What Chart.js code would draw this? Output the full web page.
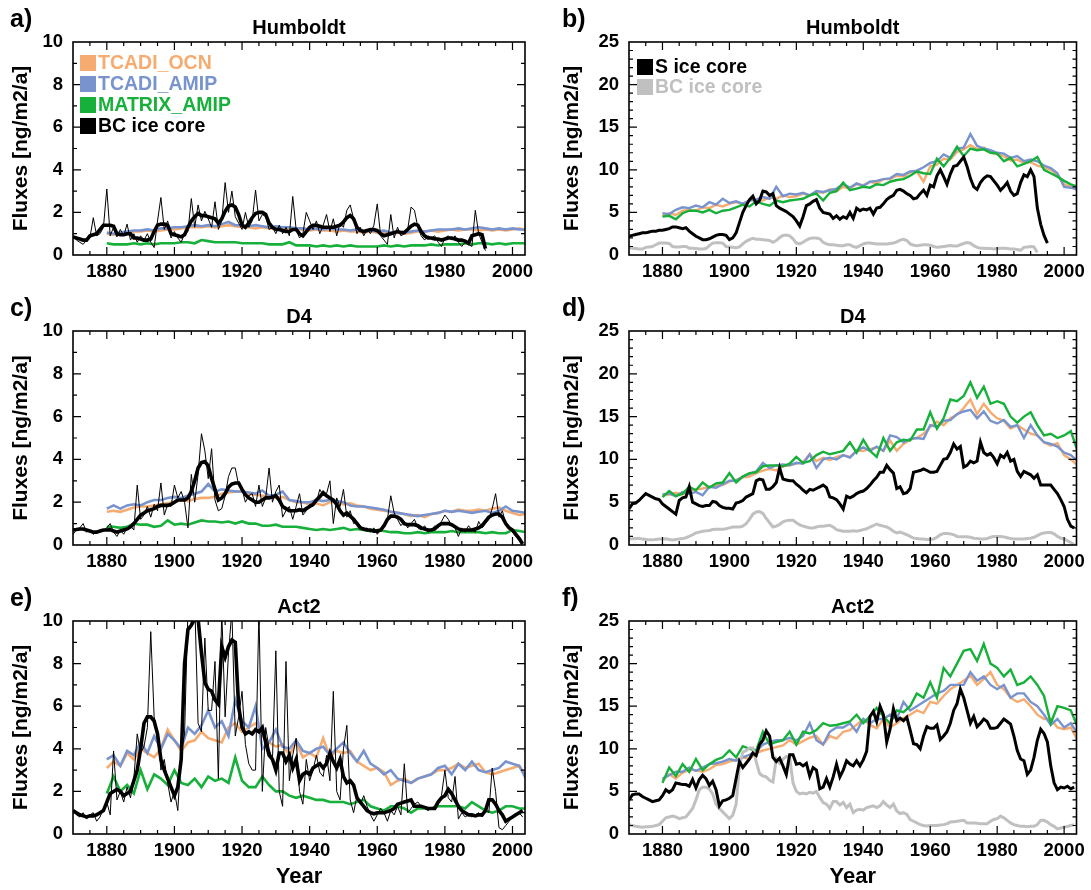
<!DOCTYPE html>
<html>
<head>
<meta charset="utf-8">
<script src="https://cdn.jsdelivr.net/npm/chart.js@4.4.1/dist/chart.umd.min.js"></script>
<style>
  body { margin: 0; background: #fff; }
  #page { position: relative; width: 1091px; height: 890px; overflow: hidden; background: #fff; }
  canvas { position: absolute; }
</style>
</head>
<body>
<div id="page">
  <canvas id="pa" width="545" height="290" style="left:0;top:0"></canvas>
  <canvas id="pb" width="546" height="290" style="left:545px;top:0"></canvas>
  <canvas id="pc" width="545" height="290" style="left:0;top:289px"></canvas>
  <canvas id="pd" width="546" height="290" style="left:545px;top:289px"></canvas>
  <canvas id="pe" width="545" height="311" style="left:0;top:579px"></canvas>
  <canvas id="pf" width="546" height="311" style="left:545px;top:579px"></canvas>
</div>
<script>
// years: model runs every 2nd year from 1880, ice cores every year from 1870
const modelStart = 1880, modelStep = 2;
const coreStart = 1870;
const xLabelYears = [1880, 1900, 1920, 1940, 1960, 1980, 2000];

// ---- Humboldt, BC (panel a) ----
const aOcn = [1.0, 0.95, 1.0, 1.05, 1.1, 1.1, 1.15, 1.1, 1.15, 1.2,
  1.2, 1.25, 1.3, 1.3, 1.3, 1.35, 1.3, 1.35, 1.4, 1.35,
  1.3, 1.3, 1.25, 1.3, 1.25, 1.25, 1.2, 1.25, 1.2, 1.2,
  1.15, 1.2, 1.15, 1.15, 1.1, 1.15, 1.1, 1.1, 1.05, 1.1,
  1.05, 1.05, 1.0, 1.05, 1.0, 1.05, 1.1, 1.1, 1.15, 1.1,
  1.15, 1.2, 1.15, 1.2, 1.2, 1.15, 1.2, 1.15, 1.2, 1.15,
  1.2, 1.25, 1.15];
const aAmip = [1.05, 1.0, 1.05, 1.1, 1.15, 1.15, 1.2, 1.15, 1.25, 1.25,
  1.3, 1.3, 1.35, 1.4, 1.35, 1.4, 1.35, 1.45, 1.55, 1.4,
  1.4, 1.35, 1.4, 1.35, 1.3, 1.35, 1.3, 1.3, 1.25, 1.25,
  1.2, 1.25, 1.2, 1.25, 1.2, 1.2, 1.15, 1.2, 1.1, 1.15,
  1.1, 1.15, 1.05, 1.1, 1.05, 1.1, 1.15, 1.1, 1.15, 1.2,
  1.2, 1.2, 1.25, 1.2, 1.25, 1.3, 1.25, 1.2, 1.25, 1.2,
  1.25, 1.2, 1.2];
const aMatrix = [0.55, 0.5, 0.5, 0.5, 0.55, 0.5, 0.55, 0.5, 0.55, 0.55,
  0.55, 0.6, 0.6, 0.55, 0.7, 0.65, 0.6, 0.6, 0.6, 0.6,
  0.55, 0.55, 0.55, 0.55, 0.5, 0.5, 0.5, 0.6, 0.45, 0.45,
  0.45, 0.4, 0.45, 0.4, 0.45, 0.4, 0.45, 0.4, 0.4, 0.4,
  0.4, 0.45, 0.4, 0.45, 0.4, 0.45, 0.45, 0.45, 0.5, 0.45,
  0.5, 0.5, 0.5, 0.55, 0.5, 0.55, 0.55, 0.5, 0.55, 0.5,
  0.55, 0.55, 0.55];
const aCoreBC = [0.9, 0.7, 0.6, 0.5, 0.7, 0.8, 1.75, 0.9, 1.0, 1.3,
  3.1, 0.9, 1.3, 0.85, 1.2, 0.9, 1.45, 0.7, 1.0, 0.6,
  0.9, 0.7, 1.0, 0.6, 0.35, 1.6, 2.7, 1.2, 1.6, 0.8,
  1.1, 0.8, 0.6, 1.0, 1.1, 2.65, 1.3, 2.35, 1.6, 2.05,
  1.7, 1.3, 2.5, 1.2, 1.6, 3.4, 2.0, 3.0, 1.8, 1.5,
  1.2, 2.0, 1.3, 1.6, 3.05, 1.6, 1.9, 1.8, 1.2, 1.3,
  1.0, 1.4, 1.0, 1.3, 0.9, 2.75, 1.2, 0.8, 1.0, 2.0,
  1.6, 1.2, 1.6, 1.0, 1.4, 1.9, 1.1, 1.7, 0.9, 1.5,
  1.3, 2.1, 2.35, 1.7, 1.0, 1.3, 0.9, 1.2, 1.0, 1.4,
  2.4, 0.9, 0.7, 0.5, 1.9, 0.8, 1.3, 0.9, 1.0, 1.2,
  2.25, 2.1, 1.3, 0.9, 0.7, 0.9, 0.8, 0.9, 0.6, 0.4,
  0.8, 0.9, 0.7, 0.9, 0.6, 0.4, 0.6, 0.5, 0.4, 2.1,
  1.0, 0.6, 0.2];
const aCoreBCSmooth = [0.85, 0.8, 0.75, 0.7, 0.7, 0.9, 0.95, 1.0, 1.2, 1.4,
  1.4, 1.4, 1.35, 1.0, 0.95, 0.95, 1.0, 1.0, 0.8, 0.8,
  0.75, 0.7, 0.7, 0.75, 1.1, 1.4, 1.45, 1.45, 1.4, 1.0,
  0.95, 0.9, 0.85, 0.95, 1.3, 1.6, 1.8, 1.95, 1.85, 1.85,
  1.8, 1.75, 1.7, 1.5, 1.7, 2.05, 2.3, 2.35, 2.25, 1.9,
  1.4, 1.3, 1.5, 1.75, 1.95, 2.0, 2.0, 1.9, 1.5, 1.3,
  1.2, 1.2, 1.15, 1.1, 1.1, 1.2, 1.2, 1.0, 0.9, 1.1,
  1.3, 1.4, 1.4, 1.35, 1.3, 1.3, 1.3, 1.3, 1.35, 1.4,
  1.55, 1.75, 1.85, 1.7, 1.3, 1.15, 1.1, 1.15, 1.2, 1.2,
  1.15, 1.0, 0.9, 0.95, 1.0, 1.05, 1.1, 1.05, 1.05, 1.2,
  1.35, 1.45, 1.4, 1.1, 0.9, 0.8, 0.8, 0.75, 0.75, 0.7,
  0.75, 0.8, 0.8, 0.75, 0.7, 0.7, 0.65, 0.55, 0.9, 0.95,
  1.0, 0.95, 0.3];

// ---- Humboldt, S (panel b) ----
const bOcn = [4.6, 4.9, 4.7, 5.2, 5.3, 5.2, 5.6, 5.5, 5.9, 5.7,
  6.0, 6.2, 6.0, 6.4, 6.5, 6.4, 6.8, 6.6, 7.0, 6.8,
  6.9, 7.2, 7.0, 7.4, 7.3, 7.7, 7.5, 8.0, 7.8, 8.3,
  8.2, 8.6, 8.4, 8.9, 8.9, 9.3, 9.2, 9.7, 9.8, 8.6,
  10.4, 10.6, 11.3, 11.2, 12.1, 12.4, 12.9, 12.4, 12.6, 12.1,
  11.8, 11.6, 11.1, 11.2, 10.8, 10.9, 10.5, 10.3, 10.0, 9.4,
  8.3, 8.0, 7.6];
const bAmip = [4.9, 4.8, 5.3, 5.6, 5.5, 5.8, 5.6, 6.2, 5.9, 6.6,
  6.1, 6.3, 6.0, 6.4, 6.5, 6.8, 6.6, 8.0, 6.9, 7.2,
  7.1, 7.3, 7.0, 7.5, 7.4, 7.6, 7.8, 8.3, 7.9, 8.4,
  8.1, 8.6, 8.7, 8.9, 9.0, 9.5, 9.4, 9.8, 9.9, 10.3,
  10.8, 11.0, 11.8, 11.4, 12.5, 12.6, 14.2, 12.8, 12.5, 12.3,
  12.0, 11.9, 11.4, 11.6, 11.0, 11.2, 11.0, 10.5, 10.2, 9.6,
  8.0, 7.9, 7.7];
const bMatrix = [4.5, 4.6, 4.2, 4.9, 5.2, 5.2, 5.0, 5.3, 4.9, 5.2,
  5.3, 5.6, 5.9, 5.7, 6.3, 6.0, 5.8, 6.4, 6.2, 6.4,
  6.5, 6.6, 7.0, 7.2, 6.4, 7.3, 7.5, 8.5, 7.6, 7.8,
  8.0, 7.9, 8.3, 8.2, 8.6, 8.8, 8.9, 9.3, 9.8, 9.6,
  9.5, 11.3, 10.4, 11.4, 12.7, 11.6, 12.5, 12.3, 12.4, 12.0,
  11.9, 11.0, 11.4, 10.4, 10.7, 11.0, 11.5, 10.0, 9.6, 9.2,
  8.7, 8.3, 8.0];
const bCoreS = [2.2, 2.3, 2.4, 2.5, 2.6, 2.6, 2.7, 2.8, 2.8, 2.9,
  2.9, 3.0, 3.1, 3.3, 3.3, 3.2, 3.1, 3.2, 2.8, 2.5,
  2.2, 2.0, 1.8, 1.8, 1.9, 2.1, 2.3, 2.4, 2.4, 2.3,
  1.8, 2.0, 2.6, 3.8, 5.0, 5.8, 6.5, 6.9, 6.0, 6.4,
  7.5, 7.4, 7.0, 7.2, 5.8, 5.5, 5.3, 5.1, 4.8, 4.5,
  4.0, 3.4, 4.5, 5.8, 6.0, 6.3, 6.5, 5.5, 5.0, 4.9,
  4.8, 4.3, 4.6, 4.2, 4.5, 4.3, 5.0, 4.3, 5.5, 5.2,
  5.4, 5.3, 5.5, 4.8, 5.5, 5.6, 6.0, 6.5, 6.8, 7.0,
  7.6, 7.7, 7.5, 7.2, 7.0, 6.6, 6.7, 7.2, 7.6, 7.0,
  8.2, 8.0, 9.3, 10.0, 9.2, 8.3, 9.5, 10.4, 10.5, 11.0,
  11.5, 10.4, 9.0, 8.0, 7.7, 8.5, 9.0, 9.3, 9.2, 8.7,
  8.2, 7.6, 8.0, 8.5, 7.5, 7.0, 7.2, 8.5, 9.4, 9.2,
  10.0, 9.2, 5.5, 3.6, 2.3, 1.4];

// ---- D4, BC (panel c) ----
const cOcn = [1.55, 1.6, 1.55, 1.65, 1.75, 1.8, 1.8, 1.85, 1.9, 1.95,
  2.0, 2.1, 2.05, 2.15, 2.2, 2.2, 2.25, 2.4, 2.45, 2.5,
  2.5, 2.4, 2.35, 2.3, 2.3, 2.2, 2.25, 2.1, 2.0, 2.0,
  1.9, 1.95, 1.85, 2.0, 2.05, 1.9, 1.95, 1.85, 1.8, 1.7,
  1.65, 1.6, 1.55, 1.5, 1.45, 1.35, 1.4, 1.3, 1.45, 1.5,
  1.6, 1.55, 1.65, 1.6, 1.6, 1.65, 1.6, 1.7, 1.75, 1.6,
  1.5, 1.4, 1.45];
const cAmip = [1.7, 1.85, 1.7, 1.85, 1.9, 1.85, 2.0, 2.1, 2.1, 2.2,
  2.25, 2.2, 2.3, 2.4, 2.5, 2.85, 2.5, 2.6, 2.55, 2.5,
  2.5, 2.45, 2.4, 2.55, 2.3, 2.35, 2.5, 2.1, 2.05, 2.0,
  2.0, 2.1, 2.05, 2.1, 2.05, 2.0, 1.85, 1.8, 1.8, 1.75,
  1.7, 1.65, 1.55, 1.5, 1.45, 1.4, 1.35, 1.4, 1.45, 1.5,
  1.6, 1.55, 1.6, 1.55, 1.5, 1.55, 1.6, 1.5, 1.6, 1.8,
  1.6, 1.55, 1.5];
const cMatrix = [0.85, 0.85, 0.8, 0.85, 1.0, 0.95, 0.95, 0.85, 0.9, 1.15,
  0.95, 1.0, 0.95, 1.05, 1.15, 1.1, 1.1, 1.05, 1.1, 1.0,
  1.1, 1.0, 1.0, 0.9, 0.9, 0.95, 0.85, 0.85, 0.85, 0.8,
  0.75, 0.7, 0.75, 0.7, 0.75, 0.8, 0.7, 0.75, 0.7, 0.65,
  0.7, 0.65, 0.6, 0.6, 0.55, 0.55, 0.6, 0.55, 0.6, 0.6,
  0.6, 0.65, 0.6, 0.6, 0.6, 0.6, 0.55, 0.6, 0.55, 0.55,
  0.7, 0.65, 0.6];
const cCoreBC = [0.5, 0.7, 0.8, 1.0, 0.6, 0.7, 0.5, 0.6, 0.6, 0.7,
  0.8, 1.0, 0.6, 0.4, 0.7, 0.5, 0.8, 0.9, 0.7, 2.8,
  1.2, 1.4, 1.8, 1.3, 1.9, 1.6, 2.9, 1.4, 1.9, 1.8,
  2.8, 2.2, 2.5, 2.0, 0.8, 3.3, 2.0, 3.3, 5.2, 4.4,
  3.1, 4.5, 2.1, 1.6, 1.7, 2.3, 3.2, 3.6, 3.6, 2.8,
  2.6, 2.0, 2.3, 2.4, 1.8, 2.8, 1.8, 2.2, 3.6, 2.0,
  2.5, 2.8, 1.3, 1.6, 1.8, 1.2, 1.8, 2.4, 1.4, 1.6,
  1.9, 1.8, 2.0, 2.6, 2.3, 2.4, 3.0, 1.0, 2.2, 1.8,
  2.6, 1.3, 1.6, 1.0, 1.1, 0.9, 0.7, 0.8, 0.6, 0.8,
  0.5, 0.7, 0.9, 1.2, 2.3, 1.5, 1.2, 0.9, 1.1, 0.8,
  1.0, 1.2, 0.8, 0.7, 0.9, 0.6, 0.7, 0.9, 0.8, 1.1,
  1.4, 1.2, 0.9, 0.8, 0.4, 0.8, 0.6, 0.9, 0.7, 0.6,
  1.1, 0.8, 1.0, 1.2, 1.7, 2.4, 1.3, 1.6, 1.0, 0.8,
  0.6, 0.4, 0.2, 0.05];
const cCoreBCSmooth = [0.7, 0.72, 0.75, 0.75, 0.7, 0.65, 0.6, 0.6, 0.65, 0.7,
  0.7, 0.72, 0.65, 0.6, 0.65, 0.7, 0.75, 0.85, 1.0, 1.2,
  1.4, 1.5, 1.6, 1.65, 1.7, 1.8, 1.85, 1.85, 1.85, 1.9,
  2.0, 2.1, 2.1, 2.1, 2.2, 2.5, 3.0, 3.6, 3.85, 3.9,
  3.7, 3.1, 2.6, 2.1, 2.2, 2.4, 2.7, 2.85, 2.9, 2.9,
  2.6, 2.35, 2.2, 2.1, 2.0, 2.0, 2.1, 2.2, 2.2, 2.25,
  2.3, 2.1, 1.8, 1.7, 1.6, 1.6, 1.6, 1.65, 1.6, 1.7,
  1.8, 1.9, 2.1, 2.25, 2.45, 2.3, 2.2, 2.1, 1.9, 1.6,
  1.4, 1.5, 1.35, 1.2, 1.0, 0.8, 0.75, 0.7, 0.7, 0.65,
  0.65, 0.7, 0.9, 1.2, 1.35, 1.35, 1.3, 1.2, 1.0, 0.95,
  0.95, 0.95, 0.9, 0.8, 0.75, 0.7, 0.7, 0.75, 0.9, 1.0,
  1.0, 1.0, 0.95, 0.85, 0.75, 0.7, 0.7, 0.7, 0.7, 0.75,
  0.8, 0.9, 1.1, 1.3, 1.4, 1.45, 1.45, 1.3, 1.0, 0.8,
  0.7, 0.5, 0.3, 0.05];

// ---- D4, S (panel d) ----
const dOcn = [5.8, 5.9, 6.1, 5.9, 6.3, 6.5, 6.6, 6.8, 7.0, 7.0,
  7.4, 7.6, 7.9, 8.0, 8.4, 8.7, 8.9, 8.7, 9.2, 9.3,
  9.5, 9.7, 10.6, 9.8, 10.2, 9.9, 10.3, 10.5, 10.3, 11.0,
  11.0, 11.2, 11.4, 11.0, 12.2, 11.0, 11.8, 12.3, 12.5, 13.0,
  13.8, 14.4, 14.0, 14.8, 15.2, 16.0, 17.0, 15.3, 16.5, 15.5,
  14.8, 14.5, 13.6, 14.0, 13.5, 13.0, 12.8, 12.0, 11.6, 11.9,
  10.5, 10.0, 9.3];
const dAmip = [5.9, 6.0, 5.7, 6.2, 6.0, 6.2, 5.8, 6.8, 6.7, 7.1,
  7.5, 7.5, 8.0, 8.3, 8.6, 9.6, 9.0, 9.3, 9.4, 9.3,
  9.6, 9.5, 10.6, 9.0, 10.0, 10.2, 10.0, 10.5, 10.2, 11.0,
  11.4, 11.0, 11.5, 11.0, 12.8, 12.6, 12.0, 12.4, 12.5, 12.4,
  14.0, 13.8, 14.5, 14.6, 15.3, 15.6, 15.8, 14.8, 15.6, 14.5,
  14.2, 14.6, 13.8, 14.0, 12.5, 14.0, 12.8, 12.0, 11.8, 11.5,
  10.8, 10.5, 9.8];
const dMatrix = [5.6, 6.3, 5.7, 6.0, 6.8, 6.4, 7.3, 6.7, 7.2, 7.3,
  8.4, 7.3, 8.0, 8.4, 8.5, 9.2, 9.3, 9.3, 9.2, 9.5,
  10.3, 9.6, 9.8, 10.5, 10.9, 10.6, 10.8, 11.0, 12.0, 10.8,
  12.3, 11.0, 10.3, 12.5, 11.0, 12.0, 12.3, 12.2, 13.5, 13.5,
  15.5, 13.6, 14.8, 17.0, 16.8, 17.4, 19.0, 17.2, 18.5, 16.5,
  16.8, 16.5, 15.0, 14.3, 15.0, 15.5, 14.0, 12.8, 13.0, 12.5,
  12.8, 13.3, 11.0];
const dCoreS = [4.2, 4.8, 4.9, 5.2, 5.6, 6.0, 5.8, 5.6, 5.4, 5.3,
  4.8, 4.5, 4.2, 3.9, 3.6, 5.2, 5.5, 5.6, 6.8, 5.0,
  4.8, 4.6, 4.5, 4.6, 4.6, 5.1, 5.0, 4.6, 4.4, 4.3,
  4.3, 4.2, 4.9, 5.0, 5.2, 5.6, 5.8, 6.0, 7.5, 7.7,
  7.6, 6.5, 6.5, 6.8, 7.3, 9.0, 7.7, 7.6, 7.5, 7.5,
  7.1, 6.8, 6.4, 6.1, 6.5, 6.4, 6.6, 6.8, 7.0, 6.7,
  5.6, 5.5, 5.3, 4.8, 4.2, 5.7, 5.5, 5.7, 6.0, 6.2,
  6.3, 6.6, 7.0, 7.5, 7.9, 8.5, 8.5, 9.3, 8.8, 8.4,
  6.6, 6.8, 6.0, 6.1, 6.6, 8.5, 8.6, 8.7, 8.9, 8.7,
  8.5, 8.5, 8.6, 9.3, 10.0, 10.1, 10.8, 11.8, 11.2, 11.5,
  9.1, 9.3, 9.8, 9.6, 9.8, 12.0, 10.8, 10.5, 10.7, 10.2,
  9.5, 10.5, 10.2, 10.8, 9.8, 10.0, 8.6, 8.0, 8.6, 8.4,
  8.2, 7.8, 8.2, 7.0, 7.0, 7.0, 7.0, 6.5, 6.0, 5.3,
  4.5, 3.0, 2.2, 2.0];

// ---- Act2, BC (panel e) ----
const eOcn = [3.1, 3.4, 3.2, 3.8, 3.5, 4.0, 3.8, 3.6, 4.0, 4.9,
  4.4, 3.9, 4.3, 4.4, 4.8, 4.5, 4.4, 4.3, 5.0, 5.2,
  4.8, 5.0, 5.2, 4.6, 4.3, 4.1, 4.2, 3.7, 4.3, 3.6,
  3.8, 3.6, 4.5, 3.6, 3.9, 3.8, 3.9, 3.4, 3.2, 3.0,
  3.1, 2.9, 2.3, 2.5, 2.6, 2.4, 2.6, 2.7, 2.8, 3.0,
  3.0, 3.1, 3.3, 3.1, 3.2, 3.3, 2.9, 2.8, 2.9, 3.0,
  3.1, 3.2, 2.7];
const eAmip = [3.5, 3.7, 3.2, 3.9, 3.7, 4.3, 3.8, 4.6, 4.0, 4.7,
  4.4, 4.0, 5.0, 4.7, 5.1, 5.8, 5.0, 5.3, 4.6, 6.3,
  5.3, 5.0, 6.0, 4.0, 4.3, 4.9, 4.1, 4.0, 4.4, 3.9,
  3.8, 4.0, 4.1, 3.7, 4.0, 4.3, 3.8, 3.4, 3.9, 3.3,
  3.1, 2.8, 3.0, 2.6, 2.5, 2.4, 2.6, 2.7, 2.8, 3.1,
  3.2, 2.8, 3.3, 3.0, 3.4, 3.0, 2.9, 3.0, 3.1, 3.4,
  3.3, 3.2, 2.6];
const eMatrix = [1.9, 2.7, 2.0, 2.3, 1.9, 3.0, 2.1, 2.8, 2.6, 2.3,
  3.0, 2.4, 2.3, 2.6, 2.2, 2.7, 2.5, 2.6, 2.4, 3.6,
  2.5, 2.2, 2.2, 2.7, 2.3, 2.0, 2.0, 1.8, 1.7, 1.8,
  1.7, 1.6, 1.6, 1.5, 1.5, 1.5, 1.4, 1.5, 1.6, 1.3,
  1.2, 1.1, 1.3, 1.3, 1.2, 1.0, 1.2, 1.2, 1.2, 1.3,
  1.3, 1.3, 1.3, 1.2, 1.5, 1.3, 1.1, 1.0, 1.1, 1.3,
  1.3, 1.2, 1.2];
const eCoreBC = [1.1, 0.9, 0.8, 1.0, 0.7, 0.9, 1.0, 0.6, 0.8, 1.2,
  1.5, 0.9, 3.9, 1.6, 2.0, 1.5, 2.2, 1.7, 2.6, 4.7,
  3.8, 4.1, 5.0, 9.5, 5.5, 4.8, 3.0, 3.5, 2.4, 1.5,
  2.0, 1.1, 3.8, 4.7, 10.5, 10.0, 11.0, 5.2, 4.8, 9.2,
  5.8, 5.8, 8.1, 2.6, 10.5, 5.5, 8.5, 10.5, 4.6, 5.5,
  6.7, 4.2, 3.3, 3.0, 3.0, 10.5, 2.0, 5.0, 4.0, 3.5,
  8.6, 2.0, 1.3, 8.1, 2.5, 3.7, 4.5, 2.0, 1.4, 3.5,
  2.5, 3.0, 3.7, 2.9, 2.7, 3.7, 2.5, 6.7, 2.0, 1.6,
  4.0, 5.1, 1.6, 1.0, 1.8, 1.4, 1.8, 1.3, 0.9, 0.6,
  0.9, 1.2, 1.0, 0.6, 1.1, 0.9, 1.3, 0.9, 3.3, 1.0,
  1.2, 1.4, 1.5, 1.3, 1.2, 1.1, 1.2, 1.3, 1.4, 1.8,
  3.0, 1.7, 1.5, 2.7, 0.7, 1.0, 0.8, 0.9, 0.8, 0.9,
  1.0, 0.8, 1.1, 1.0, 3.1, 2.0, 0.3, 0.2, 0.4, 0.6,
  0.8, 0.9, 1.0, 0.8];
const eCoreBCSmooth = [1.1, 1.0, 0.9, 0.85, 0.8, 0.85, 0.85, 0.9, 1.0, 1.1,
  1.5, 1.9, 2.0, 2.1, 2.0, 1.8, 1.9, 2.0, 2.5, 3.0,
  4.0, 5.2, 5.5, 5.5, 5.3, 4.7, 3.5, 3.0, 2.6, 2.2,
  1.8, 2.2, 3.5, 8.0, 9.6, 9.8, 10.1, 10.1, 8.5, 7.1,
  6.8, 6.7, 6.3, 6.1, 8.8, 8.3, 8.8, 9.1, 9.0, 6.0,
  5.0, 4.7, 4.8, 4.7, 4.9, 4.8, 5.0, 4.3, 3.7, 3.5,
  3.0, 3.8, 3.8, 3.4, 3.7, 3.1, 3.5, 2.5, 2.8, 2.9,
  2.8, 3.1, 3.2, 3.3, 3.1, 3.3, 3.8, 3.4, 3.1, 3.5,
  2.7, 2.4, 2.5, 2.3, 1.7, 1.5, 1.3, 1.1, 1.0, 0.95,
  1.0, 1.0, 1.0, 1.05, 1.1, 1.2, 1.4, 1.45, 1.5, 1.55,
  1.6, 1.3, 1.3, 1.3, 1.25, 1.2, 1.2, 1.2, 1.5, 1.7,
  1.8, 2.1, 1.9, 1.6, 1.3, 1.1, 1.0, 0.9, 0.9, 0.85,
  0.9, 0.9, 1.1, 1.6, 1.6, 1.4, 1.1, 0.9, 0.6, 0.7,
  0.8, 0.9, 1.0, 1.1];

// ---- Act2, S (panel f) ----
const fOcn = [6.3, 7.0, 6.5, 7.2, 7.5, 7.5, 7.3, 7.6, 8.1, 8.2,
  8.5, 8.7, 9.0, 8.8, 9.5, 9.8, 10.0, 10.2, 10.4, 11.0,
  10.5, 10.9, 11.3, 11.5, 10.5, 11.5, 11.2, 12.0, 12.2, 12.8,
  13.5, 12.8, 12.4, 13.5, 12.5, 13.0, 13.6, 14.0, 14.5, 14.2,
  15.5, 15.3, 16.2, 17.0, 17.5, 18.0, 18.6, 17.5, 18.2, 19.0,
  17.5, 17.0, 16.0, 15.5, 15.8, 15.0, 14.0, 13.5, 13.5, 12.5,
  12.3, 12.5, 11.0];
const fAmip = [6.5, 6.9, 7.3, 7.3, 7.8, 7.4, 7.8, 8.2, 8.3, 8.5,
  8.8, 8.6, 9.0, 9.3, 9.7, 10.5, 10.8, 11.0, 11.0, 11.3,
  11.0, 11.5, 13.0, 11.0, 10.5, 12.0, 12.5, 12.5, 13.0, 12.0,
  13.5, 13.0, 13.5, 13.5, 14.0, 13.5, 15.5, 14.5, 15.0, 15.5,
  16.0, 16.5, 16.8, 17.5, 17.5, 17.5, 19.0, 18.0, 18.5, 17.5,
  17.0, 17.5, 16.0, 16.5, 16.5, 15.5, 15.0, 14.0, 12.8, 13.5,
  12.5, 13.0, 11.8];
const fMatrix = [6.0, 7.8, 6.8, 8.2, 7.3, 8.8, 7.5, 8.2, 8.7, 9.0,
  9.8, 9.0, 10.3, 10.0, 9.8, 12.0, 10.5, 10.8, 11.0, 12.0,
  10.5, 12.0, 11.8, 12.2, 13.0, 12.7, 12.8, 13.0, 13.2, 14.0,
  13.0, 13.8, 14.8, 13.8, 13.0, 14.5, 14.3, 15.0, 16.5, 16.0,
  17.8, 16.0, 19.5, 18.5, 20.0, 21.5, 21.7, 20.3, 22.3, 20.0,
  19.5, 18.5, 19.3, 17.5, 17.8, 18.5, 17.5, 16.2, 13.0, 15.0,
  14.8, 14.5, 12.6];
const fCoreS = [4.0, 4.6, 4.7, 4.7, 4.4, 4.2, 4.0, 3.8, 3.9, 4.0,
  4.5, 5.2, 4.9, 5.2, 6.0, 5.9, 5.8, 5.8, 5.6, 6.4,
  5.4, 6.4, 6.9, 6.5, 5.7, 6.2, 5.2, 3.3, 3.9, 4.0,
  4.2, 4.5, 6.5, 8.5, 7.8, 8.3, 8.8, 9.5, 9.2, 10.5,
  11.0, 12.1, 11.5, 9.0, 8.5, 8.9, 8.0, 7.0, 9.3, 9.3,
  8.2, 8.3, 8.0, 8.3, 6.8, 7.8, 7.5, 5.3, 5.5, 6.5,
  5.5, 6.7, 8.2, 6.7, 7.5, 8.6, 8.2, 8.0, 8.6, 8.0,
  8.7, 9.7, 13.8, 14.4, 13.2, 15.0, 14.0, 10.8, 12.3, 14.7,
  13.3, 13.6, 13.3, 13.7, 12.2, 10.6, 10.5, 10.0, 11.5, 12.6,
  12.4, 12.4, 12.8, 11.1, 11.5, 12.0, 13.0, 14.5, 15.3, 17.0,
  16.0, 14.5, 13.0, 13.8, 12.6, 13.0, 13.5, 13.2, 12.4, 12.4,
  12.5, 13.0, 13.5, 13.2, 12.9, 11.5, 9.8, 8.8, 8.6, 7.0,
  7.5, 9.0, 11.0, 12.3, 11.8, 10.8, 8.0, 6.0, 5.2, 5.5,
  5.4, 5.6, 5.3, 5.5];

const colOcn    = 'rgb(246,172,112)';
const colAmip   = 'rgb(120,147,206)';
const colMatrix = 'rgb(22,176,58)';
const colGrey   = 'rgb(192,192,192)';
const fontFamily = '"Liberation Sans", Arial, Helvetica, sans-serif';

function points(values, start, step) {
    return values.map((v, i) => ({ x: start + i * step, y: v }));
}

function line(values, start, step, color, width) {
    return {
        data       : points(values, start, step),
        borderColor: color,
        borderWidth: width,
        pointRadius: 0,
        fill       : false,
        tension    : 0
    };
}

function bcPanel(ocn, amip, matrix, core, smooth) {
    return [
        line(smooth, coreStart, 1, '#000', 3.6),
        line(core, coreStart, 1, '#000', 1),
        line(matrix, modelStart, modelStep, colMatrix, 2.6),
        line(amip, modelStart, modelStep, colAmip, 2.6),
        line(ocn, modelStart, modelStep, colOcn, 2.6)
    ];
}

function sPanel(ocn, amip, matrix, coreS, bcSmooth) {
    return [
        line(coreS, coreStart, 1, '#000', 3),
        line(bcSmooth, coreStart, 1, colGrey, 3),
        line(matrix, modelStart, modelStep, colMatrix, 2.4),
        line(amip, modelStart, modelStep, colAmip, 2.4),
        line(ocn, modelStart, modelStep, colOcn, 2.4)
    ];
}

const legendBC = [
    { text: 'TCADI_OCN', color: colOcn },
    { text: 'TCADI_AMIP', color: colAmip },
    { text: 'MATRIX_AMIP', color: colMatrix },
    { text: 'BC ice core', color: '#000' }
];
const legendS = [
    { text: 'S ice core', color: '#000' },
    { text: 'BC ice core', color: colGrey }
];

const left  = { padL: 73, padR: 20, yTitleX: 21, letterX: 10 };
const right = { padL: 84, padR: 11, yTitleX: 27, letterX: 17 };

const panels = [
    { id: 'pa', side: left,  letter: 'a)', title: 'Humboldt', yMax: 10, yStep: 2, plotH: 213,
      legend: legendBC, legendX: 80, legendY: [63, 84, 105, 126],
      datasets: bcPanel(aOcn, aAmip, aMatrix, aCoreBC, aCoreBCSmooth) },
    { id: 'pb', side: right, letter: 'b)', title: 'Humboldt', yMax: 25, yStep: 5, plotH: 213,
      legend: legendS, legendX: 92, legendY: [67, 87],
      datasets: sPanel(bOcn, bAmip, bMatrix, bCoreS, aCoreBCSmooth) },
    { id: 'pc', side: left,  letter: 'c)', title: 'D4', yMax: 10, yStep: 2, plotH: 214,
      datasets: bcPanel(cOcn, cAmip, cMatrix, cCoreBC, cCoreBCSmooth) },
    { id: 'pd', side: right, letter: 'd)', title: 'D4', yMax: 25, yStep: 5, plotH: 214,
      datasets: sPanel(dOcn, dAmip, dMatrix, dCoreS, cCoreBCSmooth) },
    { id: 'pe', side: left,  letter: 'e)', title: 'Act2', yMax: 10, yStep: 2, plotH: 213, year: true,
      datasets: bcPanel(eOcn, eAmip, eMatrix, eCoreBC, eCoreBCSmooth) },
    { id: 'pf', side: right, letter: 'f)', title: 'Act2', yMax: 25, yStep: 5, plotH: 213, year: true,
      datasets: sPanel(fOcn, fAmip, fMatrix, fCoreS, eCoreBCSmooth) }
];

// frame with inward ticks on all four sides, plus the panel texts
const decor = {
    id: 'decor',
    afterDatasetsDraw(chart) {
        const p = chart.config.options.plugins.decor;
        const { ctx, chartArea: a, scales: { x, y } } = chart;
        ctx.save();
        ctx.strokeStyle = '#000';
        ctx.lineWidth = 1.2;
        ctx.beginPath();
        for (let yr = 1875; yr <= 2000; yr += 5) {
            const px = x.getPixelForValue(yr);
            const len = yr % 20 === 0 ? 8 : 4;
            ctx.moveTo(px, a.bottom); ctx.lineTo(px, a.bottom - len);
            ctx.moveTo(px, a.top);    ctx.lineTo(px, a.top + len);
        }
        for (let v = 1; v < p.yMax; v++) {
            const py = y.getPixelForValue(v);
            const len = v % p.yStep === 0 ? 8 : 4;
            ctx.moveTo(a.left, py);  ctx.lineTo(a.left + len, py);
            ctx.moveTo(a.right, py); ctx.lineTo(a.right - len, py);
        }
        ctx.stroke();
        ctx.lineWidth = 1.6;
        ctx.strokeRect(a.left, a.top, a.right - a.left, a.bottom - a.top);

        ctx.fillStyle = '#000';
        ctx.textBaseline = 'alphabetic';
        ctx.textAlign = 'left';
        ctx.font = 'bold 25px ' + fontFamily;
        ctx.fillText(p.letter, p.side.letterX, 27);

        ctx.textAlign = 'center';
        ctx.textBaseline = 'middle';
        ctx.font = 'bold 20px ' + fontFamily;
        ctx.fillText(p.title, (a.left + a.right) / 2, a.top - 14);

        ctx.save();
        ctx.translate(p.side.yTitleX, (a.top + a.bottom) / 2);
        ctx.rotate(-Math.PI / 2);
        ctx.font = 'bold 21px ' + fontFamily;
        ctx.fillText('Fluxes [ng/m2/a]', 0, 0);
        ctx.restore();

        if (p.year) {
            ctx.font = 'bold 22px ' + fontFamily;
            ctx.fillText('Year', (a.left + a.right) / 2, 298);
        }

        if (p.legend) {
            ctx.textAlign = 'left';
            ctx.font = 'bold 19.5px ' + fontFamily;
            p.legend.forEach((item, i) => {
                const cy = p.legendY[i];
                ctx.fillStyle = item.color;
                ctx.fillRect(p.legendX, cy - 8, 16, 16);
                ctx.fillText(item.text, p.legendX + 18, cy + 1);
            });
        }
        ctx.restore();
    }
};

const tickFont = { family: fontFamily, size: 18.5, weight: 'bold' };

panels.forEach(p => {
    const canvas = document.getElementById(p.id);
    const xAxisH = canvas.height - 42 - p.plotH;
    new Chart(canvas, {
        type: 'line',
        data: { datasets: p.datasets },
        options: {
            responsive: false,
            animation: false,
            devicePixelRatio: 1,
            layout: { padding: { left: 0, right: p.side.padR, top: 42, bottom: 0 } },
            plugins: {
                legend: { display: false },
                tooltip: { enabled: false },
                decor: p
            },
            scales: {
                x: {
                    type: 'linear',
                    min: 1870,
                    max: 2003.7,
                    grid: { display: false, drawTicks: false },
                    border: { display: false },
                    ticks: {
                        font: tickFont, color: '#000', padding: 6, maxRotation: 0, autoSkip: false,
                        callback: v => String(v)
                    },
                    afterBuildTicks: s => { s.ticks = xLabelYears.map(v => ({ value: v })); },
                    afterFit: s => { s.height = xAxisH; }
                },
                y: {
                    min: 0,
                    max: p.yMax,
                    grid: { display: false, drawTicks: false },
                    border: { display: false },
                    ticks: { font: tickFont, color: '#000', padding: 10, stepSize: p.yStep },
                    afterFit: s => { s.width = p.side.padL; }
                }
            }
        },
        plugins: [decor]
    });
});
</script>
</body>
</html>
